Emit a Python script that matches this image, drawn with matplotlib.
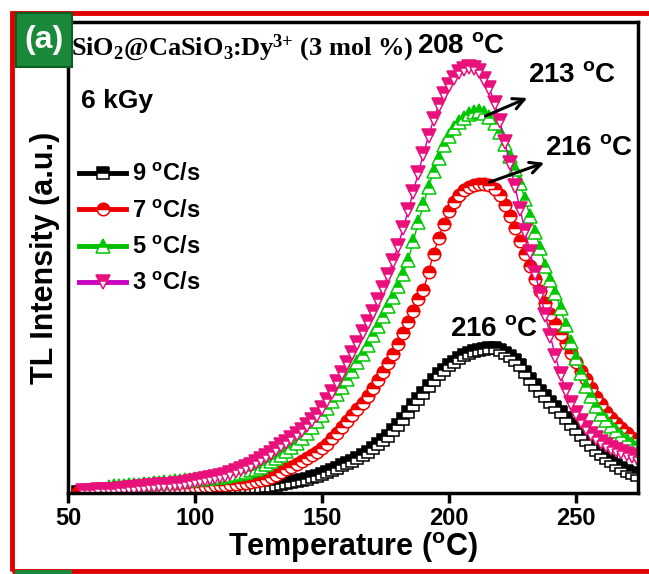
import numpy as np
import matplotlib
matplotlib.use("Agg")
import matplotlib.pyplot as plt
from matplotlib.patches import Rectangle

plt.rcParams['font.family'] = ['Liberation Sans', 'DejaVu Sans']
plt.rcParams['font.weight'] = 'bold'
plt.rcParams['axes.labelweight'] = 'bold'
plt.rcParams['mathtext.default'] = 'regular'

# TL glow curves, temperature grid in degC (2 degC steps)
t_black = np.arange(54, 275, 2)
t_red = np.arange(54, 275, 2)
t_green = np.arange(66, 275, 2)
t_pink = np.arange(56, 275, 2)

# 9 C/s
i_black = [
    .003, .003, .003, .003, .003, .003, .003, .003, .003, .003, .003, .003, .003, .003,
    .003, .003, .003, .003, .004, .004, .004, .004, .004, .005, .005, .005, .006, .006,
    .007, .007, .008, .008, .009, .010, .011, .012, .013, .014, .015, .017, .019, .021,
    .023, .025, .027, .030, .033, .037, .041, .045, .049, .054, .059, .064, .069, .075,
    .081, .088, .096, .104, .113, .122, .133, .145, .158, .172, .186, .199, .212, .227,
    .240, .252, .262, .271, .279, .286, .292, .297, .301, .304, .306, .308, .307, .304,
    .298, .291, .283, .271, .257, .243, .229, .217, .205, .194, .183, .171, .159, .147,
    .135, .124, .113, .102, .092, .083, .075, .067, .060, .053, .047, .042, .038]

# 7 C/s
i_red = [
    .003, .003, .003, .004, .004, .004, .005, .005, .005, .005, .006, .006, .006, .006,
    .006, .007, .007, .008, .008, .009, .009, .010, .011, .012, .013, .014, .015, .016,
    .017, .018, .019, .020, .021, .022, .024, .025, .027, .029, .033, .038, .044, .050,
    .056, .062, .068, .074, .080, .087, .095, .105, .116, .128, .140, .152, .165, .178,
    .192, .206, .222, .239, .257, .276, .296, .317, .339, .362, .386, .412, .430, .470,
    .508, .542, .572, .598, .618, .633, .643, .650, .654, .656, .656, .654, .646, .632,
    .612, .588, .562, .535, .508, .481, .454, .428, .404, .381, .359, .338, .318, .298,
    .279, .260, .241, .222, .204, .188, .173, .160, .148, .137, .127, .117, .108]

# 5 C/s
i_green = [
    .013, .014, .014, .015, .016, .017, .018, .019, .020, .021, .022, .023, .024, .025,
    .026, .027, .028, .029, .030, .031, .032, .033, .035, .037, .039, .041, .043, .045,
    .048, .052, .056, .061, .067, .074, .081, .089, .098, .107, .117, .128, .140, .153,
    .166, .180, .195, .210, .226, .243, .260, .278, .296, .315, .335, .355, .375, .396,
    .417, .440, .466, .495, .535, .575, .613, .650, .683, .712, .738, .758, .774, .787,
    .797, .804, .808, .810, .807, .799, .786, .766, .742, .715, .688, .658, .624, .588,
    .555, .520, .482, .452, .424, .392, .357, .321, .286, .255, .228, .205, .185, .168,
    .154, .142, .131, .121, .112, .104, .097]

# 3 C/s
i_pink = [
    .004, .005, .005, .006, .006, .007, .007, .008, .009, .010, .011, .012, .013, .014,
    .015, .016, .017, .018, .019, .020, .022, .024, .025, .027, .029, .031, .033, .036,
    .039, .043, .047, .051, .055, .060, .066, .072, .078, .085, .093, .101, .109, .117,
    .125, .134, .144, .155, .166, .180, .197, .215, .235, .255, .275, .297, .319, .341,
    .363, .385, .410, .436, .463, .493, .525, .562, .600, .640, .680, .720, .758, .793,
    .823, .847, .866, .881, .893, .901, .905, .903, .895, .880, .860, .828, .790, .746,
    .700, .652, .604, .557, .512, .467, .422, .377, .333, .290, .252, .219, .192, .170,
    .152, .138, .126, .116, .108, .101, .096, .091, .086, .082, .078, .075]

labels = ['9 $^o$C/s', '7 $^o$C/s', '5 $^o$C/s', '3 $^o$C/s']

fig = plt.figure(figsize=(6.49, 5.74), dpi=100)
ax = fig.add_axes([68 / 649, 1 - 493 / 574, 570 / 649, 471 / 574])

series = [
    (t_black, i_black, 'black', 'black', 's', 8),
    (t_red, i_red, '#ee0000', '#ee0000', 'o', 9),
    (t_green, i_green, '#00c000', '#00c800', '^', 9.5),
    (t_pink, i_pink, '#c800c0', '#e8107a', 'v', 9.5),
]
for (t, y, lc, mc, m, ms), lab in zip(series, labels):
    ax.plot(t, y, color=lc, lw=1, marker=m, ms=ms, mec=mc, mfc=mc,
            mfcalt='white', fillstyle='top', mew=1.1, label=lab)

ax.set_xlim(50, 274.5)
ax.set_ylim(0, 1)
ax.set_xticks([50, 100, 150, 200, 250])
ax.set_yticks([])
ax.tick_params(axis='x', direction='out', length=7, width=2.5, labelsize=17, pad=3)
for s in ax.spines.values():
    s.set_linewidth(2.5)
ax.set_xlabel('Temperature ($^o$C)', fontsize=22, labelpad=0)
ax.set_ylabel('TL Intensity (a.u.)', fontsize=22, labelpad=6)

leg = ax.legend(loc='upper left', bbox_to_anchor=(-0.018, 0.745), frameon=False,
                fontsize=17, handlelength=2.0, handletextpad=0.25, labelspacing=0.56,
                markerscale=1.0)
for l in leg.get_lines():
    l.set_linewidth(3.5)

ax.text(0.005, 0.945, 'SiO$_2$@CaSiO$_3$:Dy$^{3{+}}$ (3 mol %)', transform=ax.transAxes,
        fontsize=19, family='Liberation Serif', weight='bold', va='center')
ax.text(0.022, 0.833, '6 kGy', transform=ax.transAxes, fontsize=19, va='center')
ax.text(0.613, 0.95, '208 $^o$C', transform=ax.transAxes, fontsize=20, va='center')
ax.text(0.807, 0.888, '213 $^o$C', transform=ax.transAxes, fontsize=20, va='center')
ax.text(0.836, 0.733, '216 $^o$C', transform=ax.transAxes, fontsize=20, va='center')
ax.text(0.67, 0.348, '216 $^o$C', transform=ax.transAxes, fontsize=20, va='center')

ax.annotate('', xy=(231.9, 0.841), xytext=(213.4, 0.798),
            arrowprops=dict(arrowstyle='->', lw=2.2, color='black', mutation_scale=20))
ax.annotate('', xy=(238.6, 0.703), xytext=(215, 0.658),
            arrowprops=dict(arrowstyle='->', lw=2.2, color='black', mutation_scale=20))

# outer frame and panel tag
fig.patches.append(Rectangle((12 / 649, 3 / 574), 660 / 649, 558 / 574, transform=fig.transFigure,
                             fill=False, edgecolor='#e00000', lw=3.5))
fig.patches.append(Rectangle((15 / 649, 0), 57 / 649, 4 / 574, transform=fig.transFigure,
                             color='#1a8a3a', lw=0))
fig.patches.append(Rectangle((16 / 649, 1 - 67 / 574), 56 / 649, 54 / 574, transform=fig.transFigure,
                             facecolor='#1a8a3a', edgecolor='#0e5e24', lw=1.5, zorder=5))
fig.text(44 / 649, 1 - 40 / 574, '(a)', fontsize=23, color='white', ha='center', va='center',
         weight='bold', zorder=6)

fig.savefig('out.png', dpi=100)
